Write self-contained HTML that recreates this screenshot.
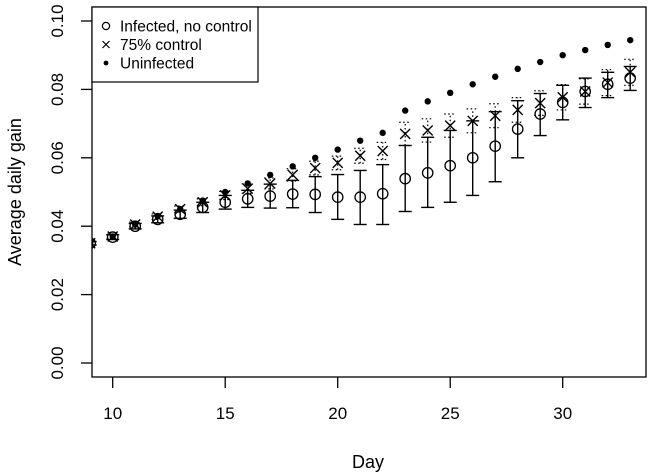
<!DOCTYPE html>
<html><head><meta charset="utf-8"><style>
html,body{margin:0;padding:0;background:#fff}
svg{display:block;font-family:"Liberation Sans",Arial,sans-serif}
</style></head><body>
<svg id="c" width="653" height="473"></svg>
<script>
const days=[9,10,11,12,13,14,15,16,17,18,19,20,21,22,23,24,25,26,27,28,29,30,31,32,33];
const uninfected=[0.035,0.037,0.0405,0.043,0.045,0.0475,0.050,0.0525,0.055,0.0575,0.060,0.0624,0.065,0.0673,0.0738,0.0765,0.079,0.0815,0.0837,0.086,0.088,0.090,0.0915,0.093,0.0944];
const control75=[0.035,0.037,0.0405,0.0428,0.045,0.047,0.049,0.051,0.0525,0.055,0.057,0.0585,0.0606,0.062,0.067,0.068,0.0694,0.0708,0.0723,0.074,0.076,0.0777,0.0794,0.082,0.085];
const control75Err=[0.0005,0.0006,0.0007,0.0008,0.0009,0.001,0.0012,0.0014,0.0016,0.0018,0.002,0.002,0.0022,0.0025,0.0034,0.0034,0.0034,0.0035,0.0035,0.0036,0.0036,0.0037,0.0037,0.0038,0.0038];
const infected=[0.035,0.0368,0.040,0.042,0.0435,0.0455,0.047,0.048,0.0488,0.0494,0.0493,0.0485,0.0485,0.0495,0.0539,0.0556,0.0577,0.060,0.0634,0.0684,0.0728,0.0762,0.0794,0.0815,0.0833];
const infectedLo=[0.0345,0.0361,0.0392,0.041,0.0423,0.044,0.045,0.0455,0.0453,0.0454,0.044,0.042,0.0405,0.0405,0.0443,0.0455,0.047,0.049,0.053,0.060,0.0665,0.0711,0.0747,0.0776,0.0797];
const infectedHi=[0.0355,0.0375,0.0408,0.043,0.0447,0.047,0.049,0.0505,0.0523,0.0534,0.0545,0.0551,0.0563,0.058,0.0636,0.066,0.068,0.0708,0.0735,0.0767,0.0788,0.0812,0.0833,0.085,0.0867];
const xTicks=[10,15,20,25,30];
const yTicks=[0,0.02,0.04,0.06,0.08,0.10];
const yTickLabels=["0.00","0.02","0.04","0.06","0.08","0.10"];

const L=92,R=646,T=7,B=377;
const X=d=>112.7+(d-10)*22.5;
const Y=v=>363-v*3420;
const svg=document.getElementById('c');
const NS='http://www.w3.org/2000/svg';
function mk(tag,attrs,parent){const e=document.createElementNS(NS,tag);for(const k in attrs)e.setAttribute(k,attrs[k]);(parent||svg).appendChild(e);return e;}

const clip=mk('clipPath',{id:'pc'});mk('rect',{x:L,y:T,width:R-L,height:B-T},clip);
const g=mk('g',{'clip-path':'url(#pc)'});



days.forEach((d,i)=>{
  const x=X(d);
  const eb=mk('g',{stroke:'#000','stroke-width':1.4,fill:'none'},g);
  
  
  mk('line',{x1:x,x2:x,y1:Y(infectedLo[i]),y2:Y(infectedHi[i])},eb);
  mk('line',{x1:x-6.5,x2:x+6.5,y1:Y(infectedLo[i]),y2:Y(infectedLo[i])},eb);
  mk('line',{x1:x-6.5,x2:x+6.5,y1:Y(infectedHi[i]),y2:Y(infectedHi[i])},eb);
  const cb=mk('g',{stroke:'#000','stroke-width':1.2,fill:'none','stroke-dasharray':'1.5,2.5'},g);
  
  
  const lo=control75[i]-control75Err[i],hi=control75[i]+control75Err[i];
  mk('line',{x1:x,x2:x,y1:Y(lo),y2:Y(hi)},cb);
  mk('line',{x1:x-6,x2:x+6,y1:Y(lo),y2:Y(lo)},cb);
  mk('line',{x1:x-6,x2:x+6,y1:Y(hi),y2:Y(hi)},cb);
  const c=mk('circle',{cx:x,cy:Y(infected[i]),r:5.2,fill:'none',stroke:'#000','stroke-width':1.3},g);
  
  
  const y2=Y(control75[i]);
  const xm=mk('path',{d:`M${x-5} ${y2-5}L${x+5} ${y2+5}M${x-5} ${y2+5}L${x+5} ${y2-5}`,stroke:'#000','stroke-width':1.4},g);
  
  
  const u=mk('circle',{cx:x,cy:Y(uninfected[i]),r:3.2,fill:'#000'},g);
  
  
});

const box=mk('rect',{x:L,y:T,width:R-L,height:B-T,fill:'none',stroke:'#000','stroke-width':1.3});



xTicks.forEach(t=>{
  mk('line',{x1:X(t),x2:X(t),y1:B,y2:B+11,stroke:'#000','stroke-width':1.3});
  const tx=mk('text',{x:X(t),y:419,'text-anchor':'middle','font-size':17});
  tx.textContent=t;
  
  
});
yTicks.forEach((t,i)=>{
  mk('line',{x1:L,x2:L-11,y1:Y(t),y2:Y(t),stroke:'#000','stroke-width':1.3});
  const tx=mk('text',{x:0,y:0,'text-anchor':'middle','font-size':17,transform:`translate(63,${Y(t)}) rotate(-90)`});
  tx.textContent=yTickLabels[i];
  
  
});
const xt=mk('text',{x:368,y:468,'text-anchor':'middle','font-size':18});
xt.textContent='Day';


const yt=mk('text',{x:0,y:0,'text-anchor':'middle','font-size':18,transform:'translate(21,192) rotate(-90)'});
yt.textContent='Average daily gain';



const lg=mk('g',{});


mk('rect',{x:L,y:T,width:166,height:75,fill:'#fff',stroke:'#000','stroke-width':1.2},lg);
const items=['Infected, no control','75% control','Uninfected'];
items.forEach((s,i)=>{
  const y=26+i*18.5,x=106;
  if(i===0)mk('circle',{cx:x,cy:y,r:3.6,fill:'none',stroke:'#000','stroke-width':1.2},lg);
  if(i===1)mk('path',{d:`M${x-3.5} ${y-3.5}L${x+3.5} ${y+3.5}M${x-3.5} ${y+3.5}L${x+3.5} ${y-3.5}`,stroke:'#000','stroke-width':1.2},lg);
  if(i===2)mk('circle',{cx:x,cy:y,r:2.4,fill:'#000'},lg);
  const t=mk('text',{x:120,y:y+5.5,'font-size':15.5},lg);
  t.textContent=s;
  
  
});
</script>
</body></html>
